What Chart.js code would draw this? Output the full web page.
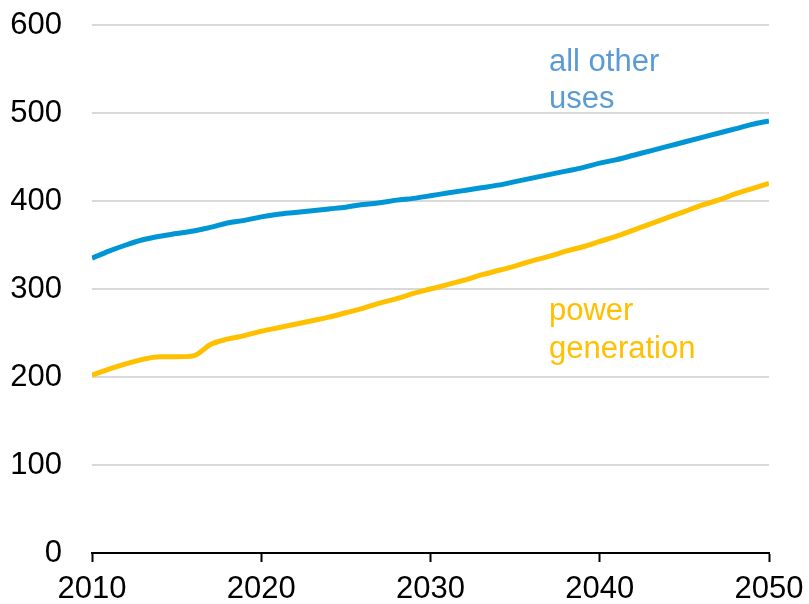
<!DOCTYPE html>
<html>
<head>
<meta charset="utf-8">
<script src="https://cdn.jsdelivr.net/npm/chart.js@4"></script>
<style>
  html, body { margin: 0; padding: 0; background: #fff; }
  #wrap { width: 809px; height: 604px; }
</style>
</head>
<body>
<div id="wrap"><canvas id="c"></canvas></div>
<script>
// Years and series
var YEARS = [];
for (var yr = 2010; yr <= 2050; yr++) { YEARS.push(yr); }

var OTHER_USES = [335, 343, 350, 356, 360, 363, 366, 370, 375, 378,
                  382, 385, 387, 389, 391, 393, 396, 398, 401, 403,
                  406, 409, 412, 415, 418, 422, 426, 430, 434, 438,
                  443, 447, 452, 457, 462, 467, 472, 477, 482, 487, 491];

var POWER_GEN = [202, 209, 215, 220, 223, 223, 224, 237, 243, 247,
                 252, 256, 260, 264, 268, 273, 278, 284, 289, 295,
                 300, 305, 310, 316, 321, 326, 332, 337, 343, 348,
                 354, 360, 367, 374, 381, 388, 395, 401, 408, 414, 420];

var Y_TICKS = [0, 100, 200, 300, 400, 500, 600];
var X_TICKS = [2010, 2020, 2030, 2040, 2050];

// Direct labels: text lines and where they sit (data coords)
var LABELS = [
    { lines: ['all other', 'uses'], x: 2037.0, y: [558, 515], color: '#5B9BD5' },
    { lines: ['power', 'generation'], x: 2037.0, y: [274, 231], color: '#FFC000' }
];

var FONT = "'Liberation Sans', Arial, sans-serif";
var FONT_SIZE = 31;

function toPoints(values) {
    return values.map(function (v, i) { return { x: YEARS[i], y: v }; });
}

var directLabels = {
    id: 'directLabels',
    afterDatasetsDraw: function (chart) {
        var ctx = chart.ctx;
        var xs = chart.scales.x, ys = chart.scales.y;
        ctx.save();
        ctx.font = FONT_SIZE + 'px ' + FONT;
        ctx.textAlign = 'left';
        ctx.textBaseline = 'middle';
        LABELS.forEach(function (l) {
            ctx.fillStyle = l.color;
            l.lines.forEach(function (t, i) {
                ctx.fillText(t, xs.getPixelForValue(l.x), ys.getPixelForValue(l.y[i]));
            });
        });
        ctx.restore();
    }
};

new Chart(document.getElementById('c').getContext('2d'), {
    type: 'line',
    data: {
        datasets: [
            {
                label: 'all other uses',
                data: toPoints(OTHER_USES),
                borderColor: '#0096D6',
                borderWidth: 5,
                pointRadius: 0,
                cubicInterpolationMode: 'monotone',
                fill: false
            },
            {
                label: 'power generation',
                data: toPoints(POWER_GEN),
                borderColor: '#FFC000',
                borderWidth: 5,
                pointRadius: 0,
                cubicInterpolationMode: 'monotone',
                fill: false
            }
        ]
    },
    options: {
        responsive: true,
        maintainAspectRatio: false,
        animation: false,
        layout: { padding: { top: 25, right: 40, left: 0, bottom: 0 } },
        plugins: { legend: { display: false }, tooltip: { enabled: false } },
        scales: {
            x: {
                type: 'linear',
                min: 2010,
                max: 2050,
                afterBuildTicks: function (s) { s.ticks = X_TICKS.map(function (v) { return { value: v }; }); },
                afterFit: function (s) { s.height = 51; s.paddingRight = 40; s.paddingLeft = 0; },
                grid: { drawOnChartArea: false, drawTicks: true, tickLength: 9, tickWidth: 2, color: '#000' },
                border: { display: true, color: '#000', width: 2 },
                ticks: {
                    color: '#000',
                    padding: 9,
                    maxRotation: 0,
                    font: { family: FONT, size: FONT_SIZE },
                    callback: function (v) { return String(v); }
                }
            },
            y: {
                min: 0,
                max: 600,
                afterBuildTicks: function (s) { s.ticks = Y_TICKS.map(function (v) { return { value: v }; }); },
                afterFit: function (s) { s.width = 92; },
                // invisible tick marks give the gap between labels and grid
                grid: { color: '#D9D9D9', lineWidth: 2, drawTicks: true, tickLength: 30, tickColor: 'rgba(0,0,0,0)' },
                border: { display: false },
                ticks: {
                    color: '#000',
                    padding: 0,
                    font: { family: FONT, size: FONT_SIZE }
                }
            }
        }
    },
    plugins: [directLabels]
});
</script>
</body>
</html>
